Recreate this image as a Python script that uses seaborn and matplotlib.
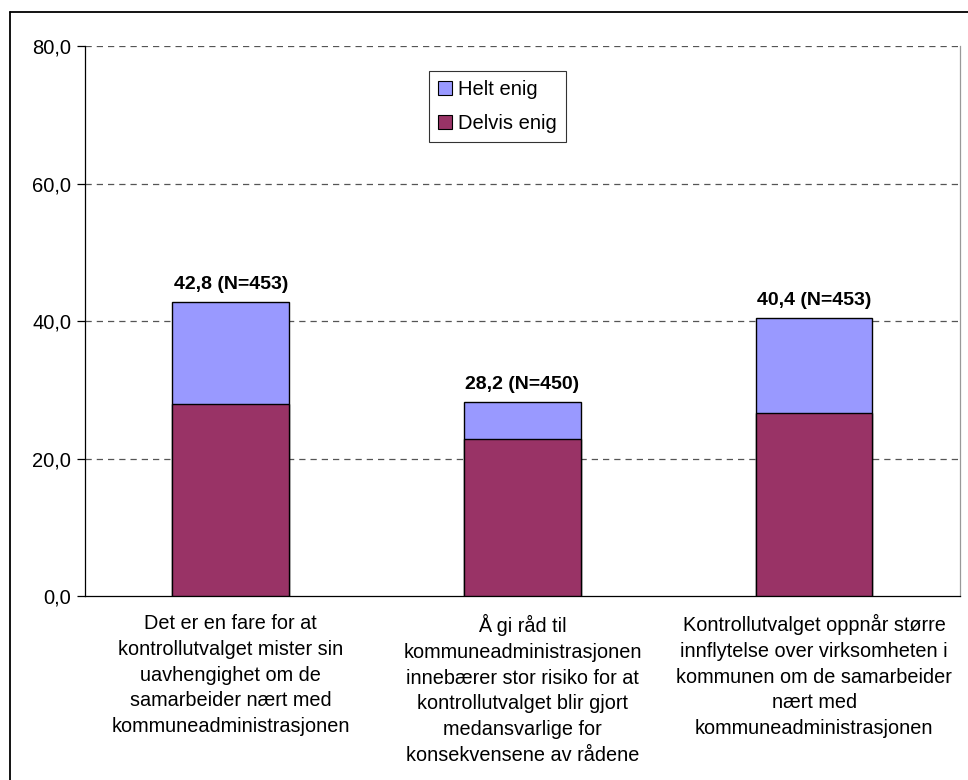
import matplotlib
matplotlib.use("Agg")
import matplotlib.pyplot as plt
import matplotlib.patches as mpatches
from matplotlib.lines import Line2D
import seaborn as sns
import pandas as pd

categories = [
    "Det er en fare for at\nkontrollutvalget mister sin\nuavhengighet om de\nsamarbeider nært med\nkommuneadministrasjonen",
    "Å gi råd til\nkommuneadministrasjonen\ninnebærer stor risiko for at\nkontrollutvalget blir gjort\nmedansvarlige for\nkonsekvensene av rådene",
    "Kontrollutvalget oppnår større\ninnflytelse over virksomheten i\nkommunen om de samarbeider\nnært med\nkommuneadministrasjonen",
]
totals = [42.8, 28.2, 40.4]
delvis_enig = [28.0, 22.8, 26.6]
n_values = [453, 450, 453]
y_ticks = [0, 20, 40, 60, 80]

color_helt = "#9999FF"
color_delvis = "#993366"

sns.set_theme(style="white")
plt.rcParams["font.family"] = ["Liberation Sans", "DejaVu Sans"]
plt.rcParams["text.color"] = "black"
plt.rcParams["xtick.color"] = "black"
plt.rcParams["ytick.color"] = "black"
plt.rcParams["xtick.labelcolor"] = "black"
plt.rcParams["ytick.labelcolor"] = "black"

df = pd.DataFrame({"kategori": categories, "total": totals, "delvis": delvis_enig})

fig = plt.figure(figsize=(9.68, 7.80), dpi=100)
ax = fig.add_axes([0.0878, 0.2359, 0.9039, 0.7051])

sns.barplot(data=df, x="kategori", y="total", color=color_helt, width=0.4,
            edgecolor="black", linewidth=1.0, saturation=1, ax=ax, zorder=3)
sns.barplot(data=df, x="kategori", y="delvis", color=color_delvis, width=0.4,
            edgecolor="black", linewidth=1.0, saturation=1, ax=ax, zorder=4)

for i, (t, n) in enumerate(zip(totals, n_values)):
    ax.text(i, t + 1.3, f"{t:.1f} (N={n})".replace(".", ","), ha="center", va="bottom",
            fontsize=14, fontweight="bold", color="black", zorder=5)

ax.set_ylim(0, 80)
ax.set_xlim(-0.5, 2.5)
ax.set_yticks(y_ticks)
ax.set_yticklabels([f"{v:.1f}".replace(".", ",") for v in y_ticks], fontsize=14.5, color="black")
for v in y_ticks[1:]:
    ax.axhline(v, color="#555555", linestyle=(0, (5, 4)), linewidth=0.9, zorder=1)

ax.set_xticks([0, 1, 2])
ax.set_xticklabels(categories, fontsize=14.3, linespacing=1.45, color="black")
ax.set_xticks([-0.5, 0.5, 1.5, 2.5], minor=True)
ax.tick_params(axis="x", which="major", length=0, pad=13)
ax.tick_params(axis="x", which="minor", length=6, width=0.9, color="black", direction="out")
ax.tick_params(axis="y", length=6, width=0.9, color="black", direction="out", left=True, pad=4)
ax.set_xlabel("")
ax.set_ylabel("")

ax.spines["top"].set_visible(False)
ax.spines["right"].set_visible(True)
ax.spines["right"].set_color("#999999")
ax.spines["right"].set_linewidth(0.9)
for side in ["left", "bottom"]:
    ax.spines[side].set_visible(True)
    ax.spines[side].set_color("black")
    ax.spines[side].set_linewidth(0.9)

handles = [
    mpatches.Patch(facecolor=color_helt, edgecolor="black", linewidth=0.8, label="Helt enig"),
    mpatches.Patch(facecolor=color_delvis, edgecolor="black", linewidth=0.8, label="Delvis enig"),
]
leg = ax.legend(handles=handles, loc="upper left", bbox_to_anchor=(0.393, 0.955),
                fontsize=14.5, frameon=True, fancybox=False, edgecolor="black",
                handlelength=0.7, handleheight=0.7, handletextpad=0.3,
                borderpad=0.45, labelspacing=0.75, borderaxespad=0)
leg.get_frame().set_linewidth(0.8)
for txt in leg.get_texts():
    txt.set_color("black")

# outer chart border (left and top edges)
fig.add_artist(Line2D([10 / 968, 10 / 968], [0, 1 - 12 / 780], transform=fig.transFigure,
                      color="black", linewidth=1.3))
fig.add_artist(Line2D([10 / 968, 1], [1 - 12 / 780, 1 - 12 / 780], transform=fig.transFigure,
                      color="black", linewidth=1.3))

fig.savefig("out.png", dpi=100)
